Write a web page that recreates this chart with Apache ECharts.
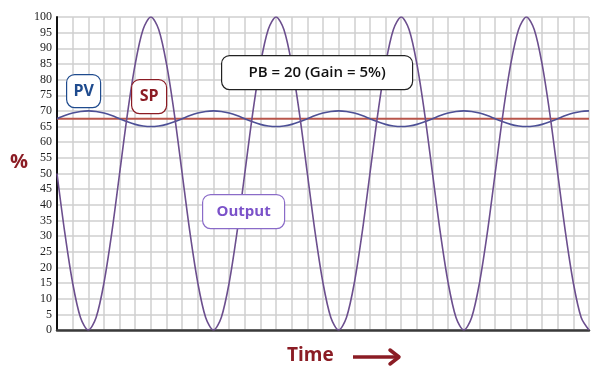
<!DOCTYPE html>
<html>
<head>
<meta charset="utf-8">
<script src="https://cdn.jsdelivr.net/npm/echarts@6/dist/echarts.min.js"></script>
<style>
  html, body { margin: 0; padding: 0; background: #fff; }
  #chart { width: 600px; height: 378px; }
</style>
</head>
<body>
<div id="chart"></div>
<script>
// time samples (grid units, half-step)
var timeSteps = [
  0, 0.5, 1, 1.5, 2, 2.5, 3, 3.5, 4, 4.5, 5, 5.5, 6, 6.5, 7, 7.5,
  8, 8.5, 9, 9.5, 10, 10.5, 11, 11.5, 12, 12.5, 13, 13.5, 14, 14.5, 15, 15.5,
  16, 16.5, 17, 17.5, 18, 18.5, 19, 19.5, 20, 20.5, 21, 21.5, 22, 22.5, 23, 23.5,
  24, 24.5, 25, 25.5, 26, 26.5, 27, 27.5, 28, 28.5, 29, 29.5, 30, 30.5, 31, 31.5,
  32, 32.5, 33, 33.5, 34
];

// controller output (%)
var outputValues = [
  50, 31, 15, 4, 0, 4, 15, 31, 50, 69, 85, 96, 100, 96, 85, 69,
  50, 31, 15, 4, 0, 4, 15, 31, 50, 69, 85, 96, 100, 96, 85, 69,
  50, 31, 15, 4, 0, 4, 15, 31, 50, 69, 85, 96, 100, 96, 85, 69,
  50, 31, 15, 4, 0, 4, 15, 31, 50, 69, 85, 96, 100, 96, 85, 69,
  50, 31, 15, 4, 0
];

// process variable (%)
var pvValues = [
  67.5, 68.5, 69.3, 69.8, 70, 69.8, 69.3, 68.5, 67.5, 66.5, 65.7, 65.2, 65, 65.2, 65.7, 66.5,
  67.5, 68.5, 69.3, 69.8, 70, 69.8, 69.3, 68.5, 67.5, 66.5, 65.7, 65.2, 65, 65.2, 65.7, 66.5,
  67.5, 68.5, 69.3, 69.8, 70, 69.8, 69.3, 68.5, 67.5, 66.5, 65.7, 65.2, 65, 65.2, 65.7, 66.5,
  67.5, 68.5, 69.3, 69.8, 70, 69.8, 69.3, 68.5, 67.5, 66.5, 65.7, 65.2, 65, 65.2, 65.7, 66.5,
  67.5, 68.5, 69.3, 69.8, 70
];

// setpoint (%)
var spTimes = [0, 34];
var spValues = [67.5, 67.5];

var chart = echarts.init(document.getElementById('chart'));

function pairs(xs, ys) {
  return xs.map(function (x, i) { return [x, ys[i]]; });
}

// rounded label box drawn on top of the curves
function labelBox(x, y, w, h, text, color, stroke, font) {
  return {
    type: 'group',
    left: x,
    top: y,
    children: [
      {
        type: 'rect',
        z: 100,
        shape: { x: 0, y: 0, width: w, height: h, r: 8 },
        style: { fill: '#fff', stroke: stroke, lineWidth: 1.2 }
      },
      {
        type: 'text',
        z: 101,
        x: w / 2,
        y: h / 2,
        style: {
          text: text,
          fill: color,
          font: font,
          align: 'center',
          verticalAlign: 'middle'
        }
      }
    ]
  };
}

var option = {
  animation: false,
  backgroundColor: '#fff',
  grid: { left: 57, right: 11, top: 17, bottom: 48 },
  xAxis: {
    type: 'value',
    min: 0,
    max: 34,
    interval: 1,
    axisLine: { show: true, lineStyle: { color: '#3a3a3a', width: 2.5 } },
    axisTick: { show: false },
    axisLabel: { show: false },
    splitLine: { show: true, lineStyle: { color: '#cfcfcf', width: 1.5 } }
  },
  yAxis: {
    type: 'value',
    min: 0,
    max: 100,
    interval: 5,
    axisLine: { show: true, onZero: false, lineStyle: { color: '#111', width: 2 } },
    axisTick: { show: false },
    axisLabel: {
      color: '#222',
      fontFamily: 'Times New Roman, Liberation Serif, DejaVu Serif, serif',
      fontSize: 12,
      margin: 5
    },
    splitLine: { show: true, lineStyle: { color: '#cfcfcf', width: 1.5 } }
  },
  series: [
    {
      name: 'SP',
      type: 'line',
      symbol: 'none',
      data: pairs(spTimes, spValues),
      lineStyle: { color: '#b9564b', width: 1.8 }
    },
    {
      name: 'PV',
      type: 'line',
      symbol: 'none',
      smooth: 0.3,
      data: pairs(timeSteps, pvValues),
      lineStyle: { color: '#4d5096', width: 1.6 }
    },
    {
      name: 'Output',
      type: 'line',
      symbol: 'none',
      smooth: 0.3,
      data: pairs(timeSteps, outputValues),
      lineStyle: { color: '#6c4f8e', width: 1.6 }
    }
  ],
  graphic: [
    labelBox(66, 74, 34, 33, 'PV', '#1f4b8e', '#1f4b8e', 'bold 16px "Open Sans", sans-serif'),
    labelBox(131, 79, 35, 34, 'SP', '#8b1c24', '#8b1c24', 'bold 16px "Open Sans", sans-serif'),
    labelBox(202, 194, 82, 34, 'Output', '#7b52c9', '#8a6bc8', 'bold 15px "Open Sans", sans-serif'),
    labelBox(221, 55, 191, 34, 'PB = 20 (Gain = 5%)', '#111', '#222', '600 15px "Open Sans", sans-serif'),
    {
      type: 'text',
      left: 10,
      top: 152,
      z: 100,
      style: {
        text: '%',
        fill: '#8b1c24',
        font: 'bold 20px "Open Sans", sans-serif'
      }
    },
    {
      type: 'text',
      left: 287,
      top: 346,
      z: 100,
      style: {
        text: 'Time',
        fill: '#8b1c24',
        font: 'bold 19px "Open Sans", sans-serif'
      }
    },
    {
      type: 'line',
      z: 100,
      shape: { x1: 353, y1: 357, x2: 397, y2: 357 },
      style: { stroke: '#8b1c24', lineWidth: 3.5 }
    },
    {
      type: 'polyline',
      z: 100,
      shape: { points: [[390, 350], [399, 357], [390, 364]] },
      style: { stroke: '#8b1c24', lineWidth: 3.5, fill: null, lineJoin: 'round', lineCap: 'round' }
    }
  ]
};

chart.setOption(option);
</script>
</body>
</html>
